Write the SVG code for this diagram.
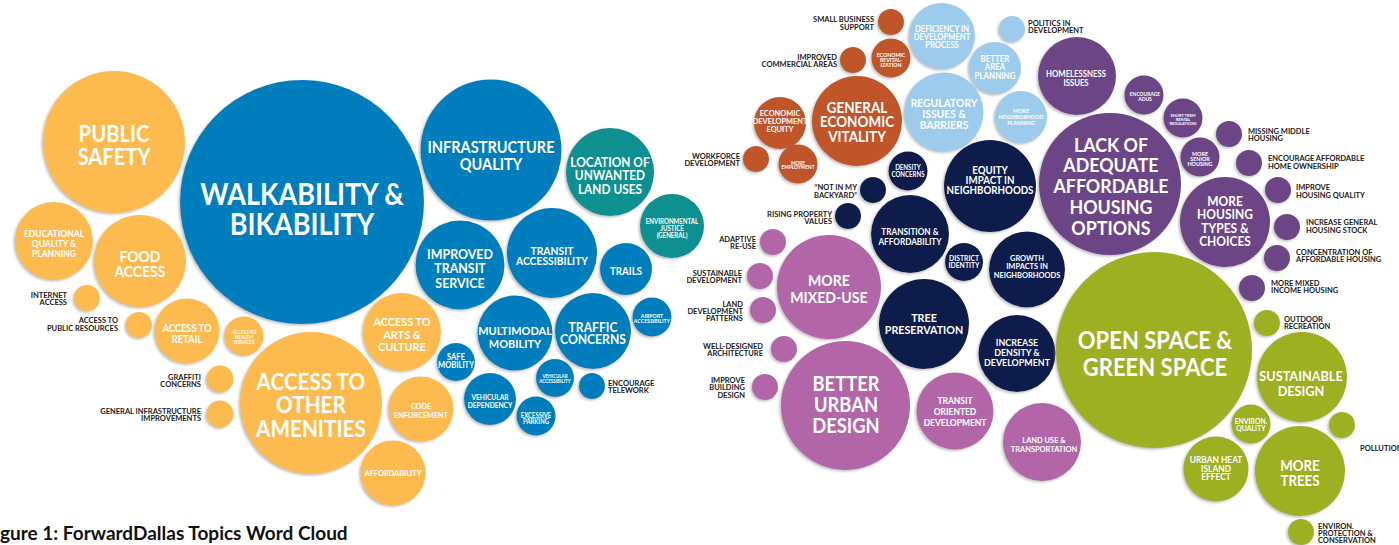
<svg xmlns="http://www.w3.org/2000/svg" width="1399" height="545" viewBox="0 0 1399 545">
<defs>
<filter id="sh" x="-20%" y="-20%" width="140%" height="140%">
<feDropShadow dx="-1.5" dy="1.5" stdDeviation="0.8" flood-color="#8a8a8a" flood-opacity="0.55"/>
</filter>
<style>
circle{filter:url(#sh)}
.or{fill:#FDBB50}.bl{fill:#057DBD}.te{fill:#07908F}.ru{fill:#C0552A}.lb{fill:#9DCBEC}
.nv{fill:#0E1F4B}.pu{fill:#6C4486}.pk{fill:#B266A8}.gr{fill:#9CB023}
text{font-family:Lato,"Liberation Sans",sans-serif;font-weight:700}
.t{fill:#fff;text-anchor:middle;transform-box:fill-box;transform-origin:50% 50%;transform:scaleX(.9)}
.l{fill:#1a1a1a;font-size:7.5px}
.e{text-anchor:end}.s{text-anchor:start}
.title{fill:#111;font-size:19px}
</style>
</defs>
<rect width="1399" height="545" fill="#fff"/>

<!-- orange -->
<g id="public-safety"><circle class="or" cx="114" cy="142" r="71"/><text class="t" font-size="22.5"><tspan x="114" y="142">PUBLIC</tspan><tspan x="114" y="165">SAFETY</tspan></text></g>
<g id="educational"><circle class="or" cx="54" cy="241" r="39"/><text class="t" font-size="9.5"><tspan x="54" y="237.5">EDUCATIONAL</tspan><tspan x="54" y="247.5">QUALITY &amp;</tspan><tspan x="54" y="257.5">PLANNING</tspan></text></g>
<g id="food-access"><circle class="or" cx="140" cy="261" r="46"/><text class="t" font-size="15.5"><tspan x="140" y="262">FOOD</tspan><tspan x="140" y="277">ACCESS</tspan></text></g>
<g id="internet-access"><circle class="or" cx="87" cy="298" r="13"/><text class="l e"><tspan x="67" y="297.5">INTERNET</tspan><tspan x="67" y="304.5">ACCESS</tspan></text></g>
<g id="public-resources"><circle class="or" cx="139" cy="325" r="13"/><text class="l e"><tspan x="118" y="323">ACCESS TO</tspan><tspan x="118" y="331">PUBLIC RESOURCES</tspan></text></g>
<g id="access-retail"><circle class="or" cx="187" cy="331" r="32.5"/><text class="t" font-size="10.4"><tspan x="187" y="332">ACCESS TO</tspan><tspan x="187" y="343">RETAIL</tspan></text></g>
<g id="access-health"><circle class="or" cx="244" cy="336" r="19.5"/><text class="t" font-size="5.2"><tspan x="244" y="334.5">ACCESS TO</tspan><tspan x="244" y="339.5">HEALTH</tspan><tspan x="244" y="344.5">SERVICES</tspan></text></g>
<g id="other-amenities"><circle class="or" cx="311" cy="403" r="71"/><text class="t" font-size="23"><tspan x="311" y="390">ACCESS TO</tspan><tspan x="311" y="413">OTHER</tspan><tspan x="311" y="437">AMENITIES</tspan></text></g>
<g id="arts-culture"><circle class="or" cx="402" cy="332" r="39"/><text class="t" font-size="12.1"><tspan x="402" y="326">ACCESS TO</tspan><tspan x="402" y="339">ARTS &amp;</tspan><tspan x="402" y="351">CULTURE</tspan></text></g>
<g id="code-enforcement"><circle class="or" cx="421" cy="409" r="32.5"/><text class="t" font-size="8"><tspan x="421" y="409.5">CODE</tspan><tspan x="421" y="418.5">ENFORCEMENT</tspan></text></g>
<g id="affordability"><circle class="or" cx="393" cy="473" r="32.5"/><text class="t" font-size="8.2"><tspan x="393" y="476">AFFORDABILITY</tspan></text></g>
<g id="graffiti"><circle class="or" cx="220" cy="379" r="13.5"/><text class="l e"><tspan x="201" y="379.5">GRAFFITI</tspan><tspan x="201" y="386.5">CONCERNS</tspan></text></g>
<g id="general-infrastructure"><circle class="or" cx="220" cy="414" r="13.5"/><text class="l e"><tspan x="201" y="413.5">GENERAL INFRASTRUCTURE</tspan><tspan x="201" y="420.5">IMPROVEMENTS</tspan></text></g>

<!-- blue -->
<g id="walkability"><circle class="bl" cx="302" cy="202" r="122"/><text class="t" font-size="30"><tspan x="302" y="205">WALKABILITY &amp;</tspan><tspan x="302" y="235">BIKABILITY</tspan></text></g>
<g id="infrastructure-quality"><circle class="bl" cx="491" cy="150" r="70.5"/><text class="t" font-size="16.2"><tspan x="491" y="153">INFRASTRUCTURE</tspan><tspan x="491" y="170">QUALITY</tspan></text></g>
<g id="improved-transit"><circle class="bl" cx="460" cy="265" r="44.5"/><text class="t" font-size="13.8"><tspan x="460" y="259">IMPROVED</tspan><tspan x="460" y="273.5">TRANSIT</tspan><tspan x="460" y="288">SERVICE</tspan></text></g>
<g id="transit-accessibility"><circle class="bl" cx="552" cy="253" r="45"/><text class="t" font-size="11.5"><tspan x="552" y="255">TRANSIT</tspan><tspan x="552" y="265.5">ACCESSIBILITY</tspan></text></g>
<g id="trails"><circle class="bl" cx="626" cy="269" r="26"/><text class="t" font-size="10.8"><tspan x="626" y="275">TRAILS</tspan></text></g>
<g id="airport"><circle class="bl" cx="652" cy="317" r="19.5"/><text class="t" font-size="5.8"><tspan x="652" y="318">AIRPORT</tspan><tspan x="652" y="323">ACCESSIBILITY</tspan></text></g>
<g id="traffic"><circle class="bl" cx="593" cy="331" r="38"/><text class="t" font-size="13.5"><tspan x="593" y="332">TRAFFIC</tspan><tspan x="593" y="344.5">CONCERNS</tspan></text></g>
<g id="multimodal"><circle class="bl" cx="515" cy="333" r="37.5"/><text class="t" font-size="12.2"><tspan x="515" y="335">MULTIMODAL</tspan><tspan x="515" y="348">MOBILITY</tspan></text></g>
<g id="safe-mobility"><circle class="bl" cx="456" cy="362" r="19"/><text class="t" font-size="8.4"><tspan x="456" y="360">SAFE</tspan><tspan x="456" y="368">MOBILITY</tspan></text></g>
<g id="vehicular-dependency"><circle class="bl" cx="490" cy="399" r="26"/><text class="t" font-size="7.4"><tspan x="490" y="400">VEHICULAR</tspan><tspan x="490" y="408">DEPENDENCY</tspan></text></g>
<g id="excessive-parking"><circle class="bl" cx="536" cy="416" r="19.5"/><text class="t" font-size="6.6"><tspan x="536" y="418">EXCESSIVE</tspan><tspan x="536" y="424">PARKING</tspan></text></g>
<g id="vehicular-accessibility"><circle class="bl" cx="555" cy="378" r="19"/><text class="t" font-size="5"><tspan x="555" y="378.5">VEHICULAR</tspan><tspan x="555" y="383">ACCESSIBILITY</tspan></text></g>
<g id="telework"><circle class="bl" cx="592" cy="386" r="13"/><text class="l s" font-size="8"><tspan x="608" y="385.5">ENCOURAGE</tspan><tspan x="608" y="392.5">TELEWORK</tspan></text></g>

<!-- teal -->
<g id="unwanted-land-uses"><circle class="te" cx="610" cy="172" r="44"/><text class="t" font-size="13.2"><tspan x="610" y="167">LOCATION OF</tspan><tspan x="610" y="180.5">UNWANTED</tspan><tspan x="610" y="194">LAND USES</tspan></text></g>
<g id="environmental-justice"><circle class="te" cx="672" cy="226" r="32"/><text class="t" font-size="6.8"><tspan x="672" y="224">ENVIRONMENTAL</tspan><tspan x="672" y="231">JUSTICE</tspan><tspan x="672" y="238">(GENERAL)</tspan></text></g>

<!-- rust -->
<g id="small-business"><circle class="ru" cx="891" cy="22" r="13"/><text class="l e"><tspan x="874" y="22">SMALL BUSINESS</tspan><tspan x="874" y="30">SUPPORT</tspan></text></g>
<g id="commercial-areas"><circle class="ru" cx="853" cy="60" r="13"/><text class="l e"><tspan x="837" y="60">IMPROVED</tspan><tspan x="837" y="67">COMMERCIAL AREAS</tspan></text></g>
<g id="economic-revitalization"><circle class="ru" cx="891" cy="58" r="19.5"/><text class="t" font-size="5.8"><tspan x="891" y="57.5">ECONOMIC</tspan><tspan x="891" y="62.5">REVITAL-</tspan><tspan x="891" y="67.5">IZATION</tspan></text></g>
<g id="economic-vitality"><circle class="ru" cx="857" cy="121" r="45"/><text class="t" font-size="15"><tspan x="857" y="113">GENERAL</tspan><tspan x="857" y="127.5">ECONOMIC</tspan><tspan x="857" y="142">VITALITY</tspan></text></g>
<g id="economic-equity"><circle class="ru" cx="780" cy="123" r="26"/><text class="t" font-size="8.2"><tspan x="780" y="116">ECONOMIC</tspan><tspan x="780" y="124">DEVELOPMENT</tspan><tspan x="780" y="132">EQUITY</tspan></text></g>
<g id="workforce"><circle class="ru" cx="756" cy="159" r="13"/><text class="l e"><tspan x="740" y="159">WORKFORCE</tspan><tspan x="740" y="166">DEVELOPMENT</tspan></text></g>
<g id="more-employment"><circle class="ru" cx="798" cy="164" r="19.5"/><text class="t" font-size="5.3"><tspan x="798" y="165.5">MORE</tspan><tspan x="798" y="169.5">EMPLOYMENT</tspan></text></g>

<!-- light blue -->
<g id="deficiency"><circle class="lb" cx="942" cy="36" r="33"/><text class="t" font-size="8.5"><tspan x="942" y="32">DEFICIENCY IN</tspan><tspan x="942" y="40">DEVELOPMENT</tspan><tspan x="942" y="48">PROCESS</tspan></text></g>
<g id="politics"><circle class="lb" cx="1012" cy="29" r="13"/><text class="l s"><tspan x="1028" y="26">POLITICS IN</tspan><tspan x="1028" y="33">DEVELOPMENT</tspan></text></g>
<g id="area-planning"><circle class="lb" cx="995" cy="68" r="26"/><text class="t" font-size="8.8"><tspan x="995" y="62">BETTER</tspan><tspan x="995" y="70.5">AREA</tspan><tspan x="995" y="79">PLANNING</tspan></text></g>
<g id="regulatory"><circle class="lb" cx="944" cy="112" r="39.5"/><text class="t" font-size="11.5"><tspan x="944" y="107">REGULATORY</tspan><tspan x="944" y="118">ISSUES &amp;</tspan><tspan x="944" y="129">BARRIERS</tspan></text></g>
<g id="neighborhood-planning"><circle class="lb" cx="1021" cy="117" r="26"/><text class="t" font-size="6"><tspan x="1021" y="113">MORE</tspan><tspan x="1021" y="119">NEIGHBORHOOD</tspan><tspan x="1021" y="125">PLANNING</tspan></text></g>

<!-- navy -->
<g id="density-concerns"><circle class="nv" cx="908" cy="171" r="19.5"/><text class="t" font-size="6.8"><tspan x="908" y="170.5">DENSITY</tspan><tspan x="908" y="177">CONCERNS</tspan></text></g>
<g id="equity-impact"><circle class="nv" cx="990" cy="186" r="46"/><text class="t" font-size="10.8"><tspan x="990" y="174">EQUITY</tspan><tspan x="990" y="184">IMPACT IN</tspan><tspan x="990" y="194">NEIGHBORHOODS</tspan></text></g>
<g id="nimby"><circle class="nv" cx="873" cy="190" r="13"/><text class="l e"><tspan x="857" y="189.5">“NOT IN MY</tspan><tspan x="857" y="197.5">BACKYARD”</tspan></text></g>
<g id="rising-values"><circle class="nv" cx="848" cy="216" r="13"/><text class="l e"><tspan x="832" y="216.5">RISING PROPERTY</tspan><tspan x="832" y="223.5">VALUES</tspan></text></g>
<g id="transition-affordability"><circle class="nv" cx="910" cy="234" r="39"/><text class="t" font-size="9.1"><tspan x="910" y="235.5">TRANSITION &amp;</tspan><tspan x="910" y="245.5">AFFORDABILITY</tspan></text></g>
<g id="district-identity"><circle class="nv" cx="964" cy="262" r="19"/><text class="t" font-size="7.6"><tspan x="964" y="261.5">DISTRICT</tspan><tspan x="964" y="268.5">IDENTITY</tspan></text></g>
<g id="growth-impacts"><circle class="nv" cx="1027" cy="269.5" r="38"/><text class="t" font-size="8.3"><tspan x="1027" y="261">GROWTH</tspan><tspan x="1027" y="269">IMPACTS IN</tspan><tspan x="1027" y="278">NEIGHBORHOODS</tspan></text></g>
<g id="tree-preservation"><circle class="nv" cx="924" cy="324" r="45"/><text class="t" font-size="11.9"><tspan x="924" y="322">TREE</tspan><tspan x="924" y="334">PRESERVATION</tspan></text></g>
<g id="increase-density"><circle class="nv" cx="1017" cy="353.5" r="38.5"/><text class="t" font-size="9.9"><tspan x="1017" y="346">INCREASE</tspan><tspan x="1017" y="356">DENSITY &amp;</tspan><tspan x="1017" y="366">DEVELOPMENT</tspan></text></g>

<!-- pink -->
<g id="adaptive-reuse"><circle class="pk" cx="773" cy="242" r="13"/><text class="l e"><tspan x="756" y="241.5">ADAPTIVE</tspan><tspan x="756" y="248.5">RE-USE</tspan></text></g>
<g id="sustainable-development"><circle class="pk" cx="760" cy="276" r="13"/><text class="l e"><tspan x="742" y="275.5">SUSTAINABLE</tspan><tspan x="742" y="282.5">DEVELOPMENT</tspan></text></g>
<g id="land-patterns"><circle class="pk" cx="763" cy="310" r="13"/><text class="l e"><tspan x="743" y="306.5">LAND</tspan><tspan x="743" y="313.5">DEVELOPMENT</tspan><tspan x="743" y="320.5">PATTERNS</tspan></text></g>
<g id="well-designed"><circle class="pk" cx="784" cy="349" r="13"/><text class="l e"><tspan x="763" y="348.5">WELL-DESIGNED</tspan><tspan x="763" y="355.5">ARCHITECTURE</tspan></text></g>
<g id="mixed-use"><circle class="pk" cx="829" cy="287" r="52"/><text class="t" font-size="15.7"><tspan x="829" y="286">MORE</tspan><tspan x="829" y="303">MIXED-USE</tspan></text></g>
<g id="building-design"><circle class="pk" cx="765" cy="387" r="13"/><text class="l e"><tspan x="745" y="382.5">IMPROVE</tspan><tspan x="745" y="390">BUILDING</tspan><tspan x="745" y="397.5">DESIGN</tspan></text></g>
<g id="urban-design"><circle class="pk" cx="845.5" cy="405.5" r="64.5"/><text class="t" font-size="20.4"><tspan x="846" y="391">BETTER</tspan><tspan x="846" y="412">URBAN</tspan><tspan x="846" y="433">DESIGN</tspan></text></g>
<g id="tod"><circle class="pk" cx="955" cy="411" r="38.5"/><text class="t" font-size="9.4"><tspan x="955" y="404">TRANSIT</tspan><tspan x="955" y="415">ORIENTED</tspan><tspan x="955" y="426">DEVELOPMENT</tspan></text></g>
<g id="land-use-transportation"><circle class="pk" cx="1042" cy="442" r="39"/><text class="t" font-size="8.3"><tspan x="1044" y="443">LAND USE &amp;</tspan><tspan x="1044" y="452">TRANSPORTATION</tspan></text></g>

<!-- purple -->
<g id="homelessness"><circle class="pu" cx="1077" cy="76" r="39"/><text class="t" font-size="8.6"><tspan x="1076" y="77">HOMELESSNESS</tspan><tspan x="1076" y="86">ISSUES</tspan></text></g>
<g id="adus"><circle class="pu" cx="1144" cy="95" r="19.5"/><text class="t" font-size="5.5"><tspan x="1145" y="96">ENCOURAGE</tspan><tspan x="1145" y="101">ADUS</tspan></text></g>
<g id="short-term-rental"><circle class="pu" cx="1183" cy="118" r="19.5"/><text class="t" font-size="4.4"><tspan x="1183" y="117.5">SHORT TERM</tspan><tspan x="1183" y="121.5">RENTAL</tspan><tspan x="1183" y="125.5">REGULATIONS</tspan></text></g>
<g id="missing-middle"><circle class="pu" cx="1229" cy="134" r="13"/><text class="l s"><tspan x="1248" y="133.5">MISSING MIDDLE</tspan><tspan x="1248" y="140.5">HOUSING</tspan></text></g>
<g id="senior-housing"><circle class="pu" cx="1200" cy="157" r="19.5"/><text class="t" font-size="6"><tspan x="1200" y="156">MORE</tspan><tspan x="1200" y="161">SENIOR</tspan><tspan x="1200" y="166">HOUSING</tspan></text></g>
<g id="home-ownership"><circle class="pu" cx="1249" cy="163" r="13"/><text class="l s"><tspan x="1268" y="161">ENCOURAGE AFFORDABLE</tspan><tspan x="1268" y="168.5">HOME OWNERSHIP</tspan></text></g>
<g id="affordable-housing"><circle class="pu" cx="1110" cy="184" r="71"/><text class="t" font-size="19.8"><tspan x="1111" y="152">LACK OF</tspan><tspan x="1111" y="172.5">ADEQUATE</tspan><tspan x="1111" y="193">AFFORDABLE</tspan><tspan x="1111" y="214">HOUSING</tspan><tspan x="1111" y="235">OPTIONS</tspan></text></g>
<g id="housing-types"><circle class="pu" cx="1225" cy="222" r="45"/><text class="t" font-size="13.3"><tspan x="1225" y="206">MORE</tspan><tspan x="1225" y="219.5">HOUSING</tspan><tspan x="1225" y="233">TYPES &amp;</tspan><tspan x="1225" y="246.5">CHOICES</tspan></text></g>
<g id="housing-quality"><circle class="pu" cx="1278" cy="190" r="13"/><text class="l s"><tspan x="1296" y="189.5">IMPROVE</tspan><tspan x="1296" y="197.5">HOUSING QUALITY</tspan></text></g>
<g id="housing-stock"><circle class="pu" cx="1287" cy="227" r="13"/><text class="l s"><tspan x="1306" y="224.5">INCREASE GENERAL</tspan><tspan x="1306" y="232.5">HOUSING STOCK</tspan></text></g>
<g id="concentration"><circle class="pu" cx="1277" cy="258" r="13"/><text class="l s"><tspan x="1296" y="254.5">CONCENTRATION OF</tspan><tspan x="1296" y="261.5">AFFORDABLE HOUSING</tspan></text></g>
<g id="mixed-income"><circle class="pu" cx="1252" cy="288" r="13"/><text class="l s"><tspan x="1271" y="285.5">MORE MIXED</tspan><tspan x="1271" y="292.5">INCOME HOUSING</tspan></text></g>

<!-- green -->
<g id="outdoor-recreation"><circle class="gr" cx="1267" cy="323" r="13"/><text class="l s"><tspan x="1284" y="321.5">OUTDOOR</tspan><tspan x="1284" y="328.5">RECREATION</tspan></text></g>
<g id="open-space"><circle class="gr" cx="1154" cy="350" r="98"/><text class="t" font-size="24.5"><tspan x="1155" y="349">OPEN SPACE &amp;</tspan><tspan x="1155" y="376">GREEN SPACE</tspan></text></g>
<g id="sustainable-design"><circle class="gr" cx="1302" cy="377" r="45"/><text class="t" font-size="14.1"><tspan x="1301" y="381">SUSTAINABLE</tspan><tspan x="1301" y="396">DESIGN</tspan></text></g>
<g id="pollution"><circle class="gr" cx="1342" cy="425" r="13"/><text class="l s"><tspan x="1360" y="450.5">POLLUTION</tspan></text></g>
<g id="environ-quality"><circle class="gr" cx="1251" cy="424" r="19.5"/><text class="t" font-size="7.6"><tspan x="1251" y="424.5">ENVIRON.</tspan><tspan x="1251" y="431.5">QUALITY</tspan></text></g>
<g id="urban-heat"><circle class="gr" cx="1216" cy="469" r="32.5"/><text class="t" font-size="9.3"><tspan x="1216" y="463.5">URBAN HEAT</tspan><tspan x="1216" y="472">ISLAND</tspan><tspan x="1216" y="480.5">EFFECT</tspan></text></g>
<g id="more-trees"><circle class="gr" cx="1300" cy="471" r="45"/><text class="t" font-size="14.8"><tspan x="1300" y="471">MORE</tspan><tspan x="1300" y="486">TREES</tspan></text></g>
<g id="environ-protection"><circle class="gr" cx="1301" cy="532" r="13"/><text class="l s"><tspan x="1318" y="528.5">ENVIRON.</tspan><tspan x="1318" y="535.5">PROTECTION &amp;</tspan><tspan x="1318" y="542.5">CONSERVATION</tspan></text></g>

<text class="title" x="0" y="540">gure 1: ForwardDallas Topics Word Cloud</text>
</svg>
